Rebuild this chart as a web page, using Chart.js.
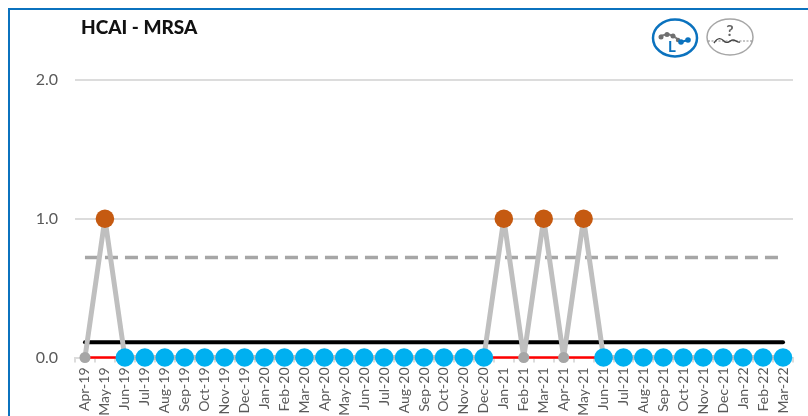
<!DOCTYPE html>
<html>
<head>
<meta charset="utf-8">
<title>HCAI - MRSA</title>
<script src="https://cdn.jsdelivr.net/npm/chart.js@4"></script>
<style>
    body { margin: 0; background: #fff; }
    #wrap { position: relative; width: 808px; height: 416px; overflow: hidden; }
    #frame { position: absolute; left: 8px; top: 8px; width: 808px; height: 416px; border: 2px solid #0B72BE; box-sizing: border-box; }
    #chartTitle { position: absolute; left: 81px; top: 15px; font: 900 19px Lato, sans-serif; color: #111; }
    #icons { position: absolute; left: 640px; top: 10px; }
    canvas { position: absolute; left: 0; top: 0; }
</style>
</head>
<body>
<div id="wrap">
    <canvas id="chartContainer" width="808" height="416"></canvas>
    <div id="frame"></div>
    <div id="chartTitle">HCAI - MRSA</div>
    <svg id="icons" width="130" height="60" font-family="Lato, sans-serif">
        <!-- variation icon -->
        <ellipse cx="35" cy="28" rx="22" ry="18.5" fill="#fff" stroke="#0B72BE" stroke-width="2.5"/>
        <polyline points="20,26 28,24 33,26 39,30" fill="none" stroke="#7f7f7f" stroke-width="2"/>
        <circle cx="21" cy="27" r="2.5" fill="#6f6f6f"/>
        <circle cx="27" cy="24.5" r="2.5" fill="#6f6f6f"/>
        <circle cx="33" cy="26" r="2.5" fill="#6f6f6f"/>
        <circle cx="38" cy="30" r="2.2" fill="#6f6f6f"/>
        <polyline points="41,32 48,30" fill="none" stroke="#0B72BE" stroke-width="2"/>
        <circle cx="41" cy="32" r="2.8" fill="#0B72BE"/>
        <circle cx="48" cy="30" r="2.8" fill="#0B72BE"/>
        <text x="28" y="42" font-size="15" font-weight="bold" fill="#0B72BE">L</text>
        <!-- assurance icon -->
        <ellipse cx="90" cy="27" rx="23" ry="18" fill="#fff" stroke="#a6a6a6" stroke-width="1.5"/>
        <line x1="68" y1="31" x2="112" y2="31" stroke="#8c8c8c" stroke-width="1" stroke-dasharray="2 1.5"/>
        <path d="M74 33 C78 27 81 28 84 31 C87 35 90 30 93 30 C96 30 97 33 100 32" fill="none" stroke="#444" stroke-width="1.4"/>
        <text x="90" y="26" font-size="16" font-weight="bold" fill="#666" text-anchor="middle">?</text>
    </svg>
</div>
<script>
const months = [
    'Apr-19', 'May-19', 'Jun-19', 'Jul-19', 'Aug-19', 'Sep-19', 'Oct-19', 'Nov-19', 'Dec-19',
    'Jan-20', 'Feb-20', 'Mar-20', 'Apr-20', 'May-20', 'Jun-20', 'Jul-20', 'Aug-20', 'Sep-20',
    'Oct-20', 'Nov-20', 'Dec-20', 'Jan-21', 'Feb-21', 'Mar-21', 'Apr-21', 'May-21', 'Jun-21',
    'Jul-21', 'Aug-21', 'Sep-21', 'Oct-21', 'Nov-21', 'Dec-21', 'Jan-22', 'Feb-22', 'Mar-22'
];
const cases = [
    0, 1, 0, 0, 0, 0, 0, 0, 0,
    0, 0, 0, 0, 0, 0, 0, 0, 0,
    0, 0, 0, 1, 0, 1, 0, 1, 0,
    0, 0, 0, 0, 0, 0, 0, 0, 0
];
const meanLine = months.map(() => 0.11);
const upperLimit = months.map(() => 0.72);
const lowerLimit = months.map(() => 0);
const commonCauseMonths = ['Apr-19', 'Feb-21', 'Apr-21'];
const yTicks = [0, 1, 2];

// months with no special signal get a small grey marker
function markerColor(ctx) {
    if (cases[ctx.dataIndex] >= 1) return '#C55A11';
    return commonCauseMonths.includes(months[ctx.dataIndex]) ? '#A6A6A6' : '#00B0F0';
}

function markerRadius(ctx) {
    return commonCauseMonths.includes(months[ctx.dataIndex]) ? 5.5 : 9.3;
}

function limitLine(data, color, width, dash) {
    return {
        data: data,
        borderColor: color,
        borderWidth: width,
        borderDash: dash || [],
        borderCapStyle: dash ? 'butt' : 'round',
        pointRadius: 0,
        clip: false
    };
}

function displayChart() {
    new Chart(document.getElementById('chartContainer'), {
        type: 'line',
        data: {
            labels: months,
            datasets: [
                {
                    label: 'MRSA cases',
                    data: cases,
                    order: 0,
                    borderColor: '#BFBFBF',
                    borderWidth: 5,
                    borderJoinStyle: 'bevel',
                    pointBackgroundColor: markerColor,
                    pointBorderWidth: 0,
                    pointRadius: markerRadius,
                    clip: false
                },
                Object.assign(limitLine(meanLine, '#000000', 4), { order: 2 }),
                Object.assign(limitLine(upperLimit, '#A6A6A6', 3.5, [13, 7]), { order: 1 }),
                Object.assign(limitLine(lowerLimit, '#FF0000', 2.5), { order: 3 })
            ]
        },
        options: {
            responsive: false,
            animation: false,
            layout: { padding: { top: 80, right: 15 } },
            plugins: {
                legend: { display: false },
                tooltip: { enabled: false }
            },
            scales: {
                x: {
                    offset: true,
                    afterFit: scale => { scale.height = 58.5; },
                    grid: { offset: true, drawOnChartArea: false, tickLength: 5, color: '#DCDCDC', lineWidth: 2 },
                    border: { color: '#DCDCDC', width: 2 },
                    ticks: {
                        minRotation: 90,
                        maxRotation: 90,
                        autoSkip: false,
                        padding: 5,
                        color: '#595959',
                        font: { family: 'Lato, sans-serif', size: 14 }
                    }
                },
                y: {
                    min: 0,
                    max: 2,
                    afterFit: scale => { scale.width = 75; },
                    afterBuildTicks: scale => { scale.ticks = yTicks.map(value => ({ value })); },
                    grid: { drawTicks: false, color: '#DCDCDC', lineWidth: 2 },
                    border: { display: false },
                    ticks: {
                        padding: 17,
                        color: '#595959',
                        font: { family: 'Lato, sans-serif', size: 16 },
                        callback: value => value.toFixed(1)
                    }
                }
            }
        }
    });
}

window.onload = displayChart;
</script>
</body>
</html>
